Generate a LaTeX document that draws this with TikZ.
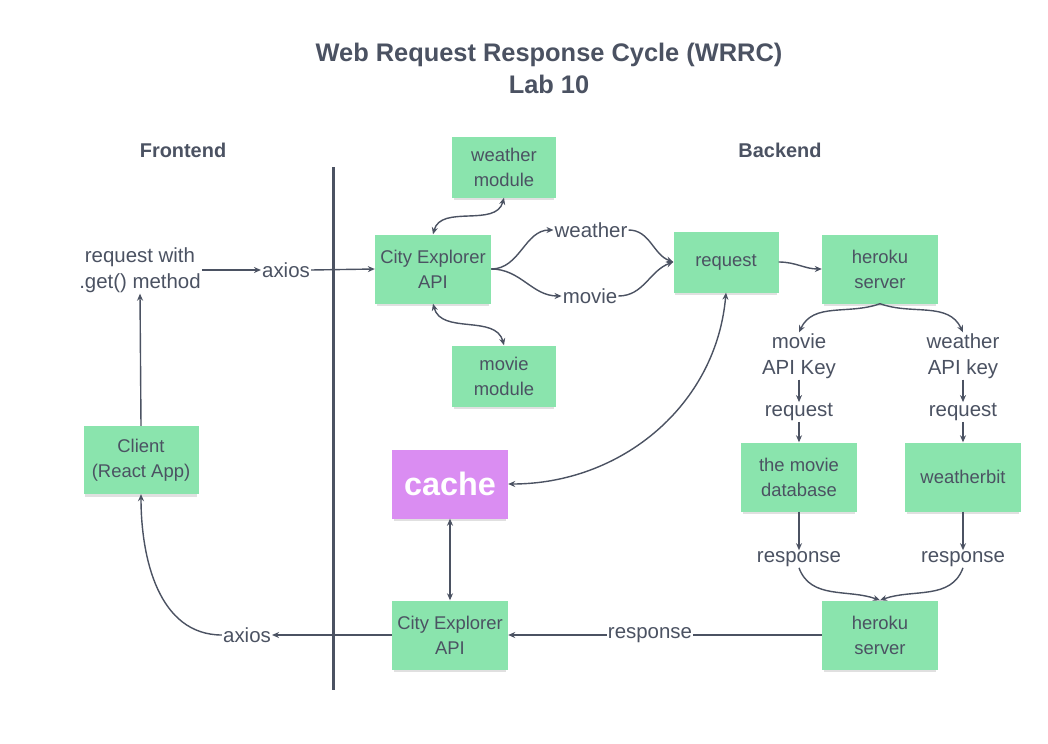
\documentclass[tikz,border=0pt]{standalone}
\usepackage{fontspec}
\setmainfont{Liberation Sans}
\usetikzlibrary{arrows.meta,shadows}
\definecolor{ink}{HTML}{4B5262}
\definecolor{boxgreen}{HTML}{8AE4AD}
\definecolor{cachepink}{HTML}{DA8DF2}
\tikzset{
  stage/.style={fill=boxgreen,text=ink,align=center,inner sep=2bp,
    minimum width=116bp,minimum height=69bp,
    font=\fontsize{18.5}{25}\selectfont,
    drop shadow={shadow xshift=0bp,shadow yshift=-4bp,shadow scale=0.97,fill=black,opacity=0.12}},
  module/.style={stage,minimum width=104bp,minimum height=61bp},
  lbl/.style={text=ink,align=center,inner sep=1bp,font=\fontsize{20.5}{26}\selectfont},
  head/.style={text=ink,align=center,font=\bfseries\fontsize{20}{24}\selectfont},
  flow/.style={draw=ink,line width=1.4bp,-{Stealth[length=7bp,width=6bp]}},
  both/.style={draw=ink,line width=1.4bp,{Stealth[length=7bp,width=6bp]}-{Stealth[length=7bp,width=6bp]}},
  plain/.style={draw=ink,line width=1.4bp}
}
\begin{document}
\begin{tikzpicture}[x=1bp,y=1bp]
\useasboundingbox[fill=white] (0,0) rectangle (1048,-744);
% title
\node[head,font=\bfseries\fontsize{25.5}{32}\selectfont] (title) at (549,-68) {Web Request Response Cycle (WRRC)\\Lab 10};
\node[head] (front) at (183,-150) {Frontend};
\node[head] (back) at (780,-150) {Backend};
% divider
\coordinate (divtop) at (333,-167);
\coordinate (divbot) at (333,-690);
\draw[ink,line width=3bp] (divtop) -- (divbot);
% frontend
\node[lbl] (reqtxt) at (140,-270) {request with\\.get() method};
\node[lbl] (axin) at (286,-270) {axios};
\node[stage,minimum width=115bp,minimum height=68bp] (client) at (141,-460) {Client\\(React App)};
\node[lbl] (axout) at (247,-635) {axios};
% server side, top row
\node[module] (wmod) at (504,-167) {weather\\module};
\node[stage] (cityA) at (433,-269) {City Explorer\\API};
\node[module] (mmod) at (504,-376) {movie\\module};
\node[lbl] (wlab) at (591,-230) {weather};
\node[lbl] (mlab) at (590,-296) {movie};
\node[module,minimum width=105bp] (req) at (726,-262) {request};
\node[stage] (herA) at (880,-269) {heroku\\server};
% api calls
\node[lbl] (mkey) at (799,-356) {movie\\API Key};
\node[lbl] (wkey) at (963,-356) {weather\\API key};
\node[lbl] (mreq) at (799,-412) {request};
\node[lbl] (wreq) at (963,-412) {request};
\node[stage] (tmdb) at (799,-477) {the movie\\database};
\node[stage] (wbit) at (963,-477) {weatherbit};
\node[lbl] (mresp) at (799,-559) {response};
\node[lbl] (wresp) at (963,-559) {response};
% way back
\node[stage] (herB) at (880,-635) {heroku\\server};
\node[lbl] (respB) at (650,-635) {response};
\node[stage] (cityB) at (450,-635) {City Explorer\\API};
\node[stage,fill=cachepink,text=white,font=\bfseries\fontsize{32.5}{36}\selectfont] (cache) at (450,-484) {cache};
% connectors
\draw[flow] (reqtxt.east) -- (axin.west);
\draw[flow] (axin.east) -- (cityA.west);
\draw[both] (cityA.north) to[out=75,in=-105] (wmod.south);
\draw[both] (cityA.south) to[out=-75,in=105] (mmod.north);
\draw[flow] (cityA.east) to[out=0,in=180] (wlab.west);
\draw[flow] (cityA.east) to[out=0,in=180] (mlab.west);
\draw[flow] (wlab.east) to[out=0,in=160] (req.west);
\draw[flow] (mlab.east) to[out=0,in=200] (req.west);
\draw[flow] (req.east) to[out=0,in=180] (herA.west);
\draw[flow] (herA.south) to[out=-160,in=65] (mkey.north);
\draw[flow] (herA.south) to[out=-20,in=115] (wkey.north);
\draw[flow] (mkey.south) -- (mreq.north);
\draw[flow] (wkey.south) -- (wreq.north);
\draw[flow] (mreq.south) -- (tmdb.north);
\draw[flow] (wreq.south) -- (wbit.north);
\draw[flow] (tmdb.south) -- (mresp.north);
\draw[flow] (wbit.south) -- (wresp.north);
\draw[flow] (mresp.south) to[out=-70,in=160] (herB.north);
\draw[flow] (wresp.south) to[out=-110,in=20] (herB.north);
\draw[plain] (herB.west) -- (respB.east);
\draw[flow] (respB.west) -- (cityB.east);
\draw[both] (cache.south) -- (cityB.north);
\draw[both] (req.south) to[out=-95,in=0] (cache.east);
\draw[flow] (cityB.west) -- (axout.east);
\draw[flow] (axout.west) to[out=180,in=-90] (client.south);
\draw[flow] (client.north) -- (reqtxt.south);
\end{tikzpicture}
\end{document}
